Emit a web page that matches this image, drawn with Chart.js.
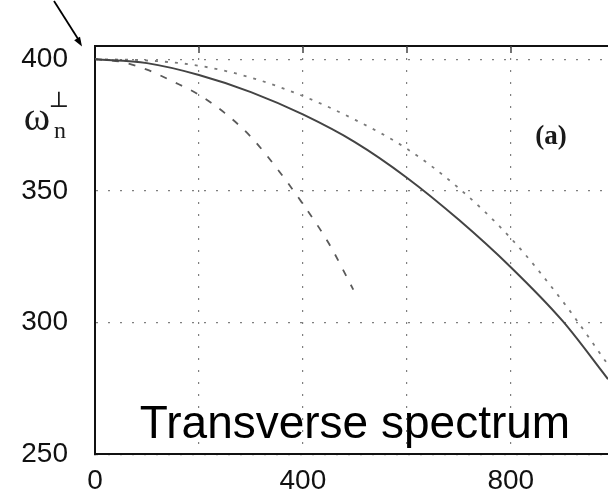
<!DOCTYPE html>
<html>
<head>
<meta charset="utf-8">
<script src="https://cdn.jsdelivr.net/npm/chart.js@4.4.1/dist/chart.umd.min.js"></script>
<style>
  html, body { margin: 0; padding: 0; background: #fff; }
  #c { display: block; }
</style>
</head>
<body>
<canvas id="c" width="608" height="498"></canvas>
<script>
// values
var solidX  = [0, 100, 200, 300, 400, 500, 600, 700, 800, 900, 987];
var solidY  = [400, 398.5, 394, 387.5, 379, 368.5, 355, 339, 321, 300.5, 278.5];
var dottedX = [0, 100, 200, 300, 400, 500, 600, 700, 800, 900, 987];
var dottedY = [400, 399.5, 397.5, 393, 386, 377, 366, 351, 332, 308, 284];
var dashedX = [0, 50, 100, 150, 200, 250, 300, 350, 400, 450, 497];
var dashedY = [400, 399, 396, 391.5, 386.5, 379.5, 370.5, 358.5, 345, 330, 312.5];
var yTicks = [250, 300, 350, 400];
var xLabels = [0, 400, 800];

function pts(xs, ys) {
    return xs.map(function(x, i){ return {x: x, y: ys[i]}; });
}

var extras = {
    id: 'extras',
    afterDraw: function(chart) {
        var c = chart.ctx, a = chart.chartArea, xs = chart.scales.x;
        c.save();
        // top frame and inner ticks
        c.strokeStyle = '#111';
        c.lineWidth = 2;
        c.beginPath();
        c.moveTo(a.left - 1, a.top);
        c.lineTo(a.right, a.top);
        c.stroke();
        c.lineWidth = 1.5;
        c.strokeStyle = '#444';
        [200, 400, 600, 800].forEach(function(v){
            var px = Math.round(xs.getPixelForValue(v));
            c.beginPath();
            c.moveTo(px, a.top);
            c.lineTo(px, a.top + 7);
            c.stroke();
        });
        // arrow
        c.strokeStyle = '#000';
        c.fillStyle = '#000';
        c.lineWidth = 1.8;
        c.beginPath();
        c.moveTo(54, 1);
        c.lineTo(80, 42);
        c.stroke();
        var ang = Math.atan2(46.5 - 1, 82 - 54);
        c.beginPath();
        c.moveTo(82, 46.5);
        c.lineTo(82 - 10 * Math.cos(ang - 0.35), 46.5 - 10 * Math.sin(ang - 0.35));
        c.lineTo(82 - 10 * Math.cos(ang + 0.35), 46.5 - 10 * Math.sin(ang + 0.35));
        c.closePath();
        c.fill();
        // texts
        c.fillStyle = '#000';
        c.textAlign = 'center';
        c.textBaseline = 'alphabetic';
        c.font = '46px "Liberation Sans", Arial, sans-serif';
        c.fillText('Transverse spectrum', 355, 438);
        c.fillStyle = '#1a1a1a';
        c.font = 'bold 27px "Liberation Serif", "DejaVu Serif", serif';
        c.fillText('(a)', 551, 144);
        c.font = '40px "Liberation Serif", "DejaVu Serif", serif';
        c.fillText('\u03c9', 37, 130);
        c.font = '22px "DejaVu Serif", serif';
        c.fillText('\u22a5', 59, 107);
        c.font = '24px "Liberation Serif", "DejaVu Serif", serif';
        c.fillText('n', 60, 138);
        c.restore();
    }
};

new Chart(document.getElementById('c'), {
    type: 'scatter',
    data: {
        datasets: [{
            label: 'solid',
            data: pts(solidX, solidY),
            showLine: true,
            borderColor: '#444',
            borderWidth: 2,
            pointRadius: 0,
            cubicInterpolationMode: 'monotone'
        }, {
            label: 'dotted',
            data: pts(dottedX, dottedY),
            showLine: true,
            borderColor: '#7a7a7a',
            borderWidth: 1.8,
            borderDash: [3, 7],
            pointRadius: 0,
            cubicInterpolationMode: 'monotone'
        }, {
            label: 'dashed',
            data: pts(dashedX, dashedY),
            showLine: true,
            borderColor: '#5a5a5a',
            borderWidth: 1.8,
            borderDash: [7, 10],
            pointRadius: 0,
            cubicInterpolationMode: 'monotone'
        }]
    },
    options: {
        responsive: false,
        animation: false,
        devicePixelRatio: 1,
        layout: { padding: { left: 0, top: 46, right: 0, bottom: 0 } },
        plugins: { legend: { display: false }, tooltip: { enabled: false } },
        scales: {
            x: {
                type: 'linear',
                min: 0,
                max: 987,
                afterFit: function(s){ s.height = 43; },
                afterBuildTicks: function(s){ s.ticks = [0, 200, 400, 600, 800].map(function(v){ return {value: v}; }); },
                ticks: {
                    padding: 10,
                    color: '#111',
                    font: { family: '"Liberation Sans", Arial, sans-serif', size: 28 },
                    maxRotation: 0,
                    callback: function(v){ return xLabels.indexOf(v) >= 0 ? String(v) : ''; }
                },
                grid: { color: 'rgba(0,0,0,0.5)', lineWidth: 1.2, drawTicks: false },
                border: { display: true, color: '#111', width: 2, dash: [2, 10] }
            },
            y: {
                min: 250,
                max: 405,
                afterFit: function(s){ s.width = 95; },
                afterBuildTicks: function(s){ s.ticks = yTicks.map(function(v){ return {value: v}; }); },
                ticks: {
                    padding: 27,
                    color: '#111',
                    font: { family: '"Liberation Sans", Arial, sans-serif', size: 28 }
                },
                grid: { color: 'rgba(0,0,0,0.5)', lineWidth: 1.2, drawTicks: false },
                border: { display: true, color: '#111', width: 2, dash: [2, 10] }
            }
        }
    },
    plugins: [extras]
});
</script>
</body>
</html>
